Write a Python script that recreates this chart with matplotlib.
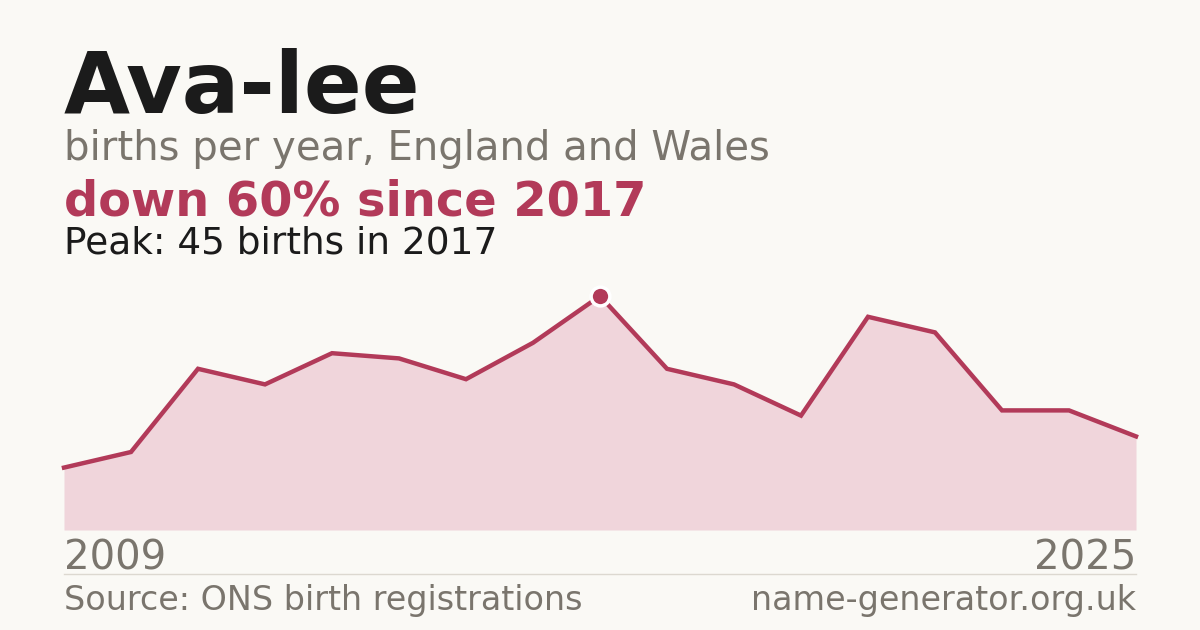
import matplotlib
matplotlib.use("Agg")
import matplotlib.pyplot as plt

# Données : naissances par an
years = list(range(2009, 2026))
births = [12, 15, 31, 28, 34, 33, 29, 36, 45, 31, 28, 22, 41, 38, 23, 23, 18]
peak_year = 2017
peak_value = 45

bg = "#faf9f5"
red = "#b23a59"
fill_col = "#f0d5db"
grey = "#7a756d"
dark = "#1b1b1b"

plt.rcParams["font.family"] = ["DejaVu Sans"]

fig = plt.figure(figsize=(12, 6.3), dpi=100)
fig.patch.set_facecolor(bg)

W, H = 1200, 630
ax = fig.add_axes([64 / W, (H - 530) / H, (1136 - 64) / W, (530 - 296) / H])
ax.set_facecolor(bg)
ax.fill_between(years, births, 0, color=fill_col, lw=0)
ax.plot(years, births, color=red, lw=3.2, solid_joinstyle="miter", clip_on=False)
ax.plot([peak_year], [peak_value], "o", ms=13.5, color=red, mec="white", mew=2.5,
        clip_on=False, zorder=5)
ax.set_xlim(years[0], years[-1])
ax.set_ylim(0, peak_value)
ax.axis("off")

# Textes
fig.text(64 / W, 1 - 113 / H, "Ava-lee", fontsize=61.5, fontweight="bold",
         color=dark, va="baseline")
fig.text(64 / W, 1 - 160 / H, "births per year, England and Wales", fontsize=29,
         color=grey, va="baseline")
fig.text(64 / W, 1 - 215 / H, "down 60% since 2017", fontsize=34.5,
         fontweight="bold", color=red, va="baseline")
fig.text(64 / W, 1 - 253 / H, "Peak: 45 births in 2017", fontsize=27,
         color=dark, va="baseline")

fig.text(64 / W, 1 - 570 / H, str(years[0]), fontsize=29, color=grey,
         va="baseline")
fig.text(1136 / W, 1 - 570 / H, str(years[-1]), fontsize=29, color=grey,
         va="baseline", ha="right")

fig.add_artist(plt.Line2D([64 / W, 1136 / W], [1 - 574 / H, 1 - 574 / H],
                          color="#dcd8d0", lw=1))

fig.text(64 / W, 1 - 610 / H, "Source: ONS birth registrations", fontsize=24,
         color=grey, va="baseline")
fig.text(1136 / W, 1 - 610 / H, "name-generator.org.uk", fontsize=24,
         color=grey, va="baseline", ha="right")

fig.savefig("out.png", dpi=100, facecolor=bg)
